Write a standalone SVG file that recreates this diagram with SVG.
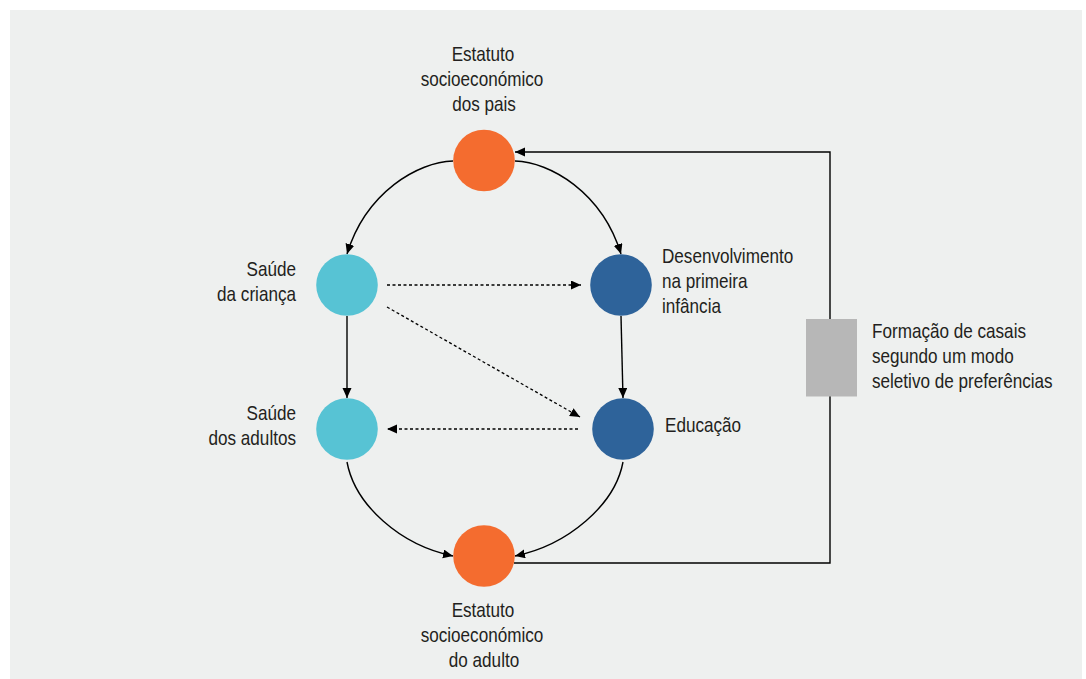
<svg xmlns="http://www.w3.org/2000/svg" width="1086" height="679" viewBox="0 0 1086 679">
<style>
.t{font-family:"Liberation Sans",Arial,sans-serif;font-size:21px;fill:#231f20}
.m{text-anchor:middle}.e{text-anchor:end}
.c{fill:none;stroke:#000;stroke-width:1.4}
.d{fill:none;stroke:#000;stroke-width:1.3;stroke-dasharray:3 2.5}
.or{fill:#f46c2f}.lb{fill:#57c3d4}.db{fill:#2e639a}
</style>
<defs>
<marker id="ah" markerUnits="userSpaceOnUse" markerWidth="11" markerHeight="10" refX="10" refY="4.5" orient="auto" viewBox="0 0 11 10">
<path d="M0,0 L10,4.5 L0,9 z" fill="#000"/>
</marker>
</defs>
<rect x="10" y="10" width="1072" height="669" fill="#eef0ef"/>
<g id="connectors">
<path class="c" d="M453,161 C418,162 366,192 347,254" marker-end="url(#ah)"/>
<path class="c" d="M515,161 C550,162 602,192 621,254" marker-end="url(#ah)"/>
<path class="c" d="M347,316 L347,398" marker-end="url(#ah)"/>
<path class="c" d="M621,316 L623,398" marker-end="url(#ah)"/>
<path class="d" d="M387,285 L581,285" marker-end="url(#ah)"/>
<path class="d" d="M387,307 L580,417" marker-end="url(#ah)"/>
<path class="d" d="M578,429 L387,429" marker-end="url(#ah)"/>
<path class="c" d="M347,462 C355,505 400,545 453,556" marker-end="url(#ah)"/>
<path class="c" d="M623,462 C615,505 568,545 515,556" marker-end="url(#ah)"/>
<path class="c" d="M514,563 L830,563 L830,152 L515,152" marker-end="url(#ah)"/>
</g>
<g id="node-parents">
<circle class="or" cx="484" cy="160.5" r="30.8"/>
<text class="t m" transform="translate(483,61) scale(0.815,1)">Estatuto</text>
<text class="t m" transform="translate(482,86) scale(0.815,1)">socioeconómico</text>
<text class="t m" transform="translate(484,111) scale(0.815,1)">dos pais</text>
</g>
<g id="node-child-health">
<circle class="lb" cx="347" cy="285" r="30.8"/>
<text class="t e" transform="translate(296,276) scale(0.815,1)">Saúde</text>
<text class="t e" transform="translate(296,301) scale(0.815,1)">da criança</text>
</g>
<g id="node-early-dev">
<circle class="db" cx="621" cy="285" r="30.8"/>
<text class="t" transform="translate(662,263) scale(0.815,1)">Desenvolvimento</text>
<text class="t" transform="translate(662,288) scale(0.815,1)">na primeira</text>
<text class="t" transform="translate(662,313) scale(0.815,1)">infância</text>
</g>
<g id="node-adult-health">
<circle class="lb" cx="347" cy="429" r="30.8"/>
<text class="t e" transform="translate(296,420) scale(0.815,1)">Saúde</text>
<text class="t e" transform="translate(296,445) scale(0.815,1)">dos adultos</text>
</g>
<g id="node-education">
<circle class="db" cx="623" cy="429" r="30.8"/>
<text class="t" transform="translate(665,432) scale(0.815,1)">Educação</text>
</g>
<g id="node-adult-status">
<circle class="or" cx="484" cy="556" r="30.8"/>
<text class="t m" transform="translate(483,617) scale(0.815,1)">Estatuto</text>
<text class="t m" transform="translate(482,642) scale(0.815,1)">socioeconómico</text>
<text class="t m" transform="translate(484,667) scale(0.815,1)">do adulto</text>
</g>
<g id="node-mating">
<rect x="806" y="319" width="51" height="77.5" fill="#b7b7b7"/>
<text class="t" transform="translate(872,338) scale(0.815,1)">Formação de casais</text>
<text class="t" transform="translate(872,363) scale(0.815,1)">segundo um modo</text>
<text class="t" transform="translate(872,388) scale(0.815,1)">seletivo de preferências</text>
</g>
</svg>
